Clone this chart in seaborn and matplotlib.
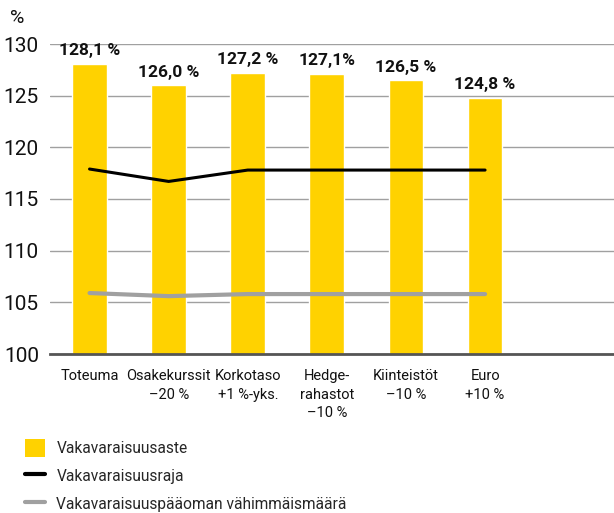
import matplotlib
matplotlib.use("Agg")
import matplotlib.pyplot as plt
import seaborn as sns
from matplotlib.patches import Patch
from matplotlib.lines import Line2D

# data
categories = ["Toteuma", "Osakekurssit\n\u201320 %", "Korkotaso\n+1 %-yks.",
              "Hedge-\nrahastot\n\u201310 %", "Kiinteist\u00f6t\n\u201310 %", "Euro\n+10 %"]
solvency_ratio = [128.1, 126.0, 127.2, 127.1, 126.5, 124.8]
ratio_labels = ["128,1 %", "126,0 %", "127,2 %", "127,1%", "126,5 %", "124,8 %"]
solvency_limit = [117.9, 116.7, 117.8, 117.8, 117.8, 117.8]
min_capital = [105.9, 105.6, 105.8, 105.8, 105.8, 105.8]
yticks = [100, 105, 110, 115, 120, 125, 130]

sns.set_style("white")
plt.rcParams['font.family'] = ['Roboto', 'DejaVu Sans']

yellow = "#FFD200"
fig = plt.figure(figsize=(6.14, 5.13), dpi=100)
ax = fig.add_axes([50 / 614, (513 - 354) / 513, (614 - 50) / 614, (354 - 44) / 513])

sns.barplot(x=categories, y=solvency_ratio, color=yellow, width=0.44,
            saturation=1, ax=ax, zorder=3)
ax.bar_label(ax.containers[0], labels=ratio_labels, padding=4,
             fontsize=12.5, fontweight="bold", color="#111111")

xs = list(range(len(categories)))
ax.plot(xs, solvency_limit, color="black", lw=2.2, zorder=4)
ax.plot(xs, min_capital, color="#a0a0a0", lw=3, zorder=4)

ax.set_ylim(100, 130)
ax.set_xlim(-0.5, 6.63)
ax.set_yticks(yticks)
ax.set_yticklabels([str(t) for t in yticks], fontsize=15)
ax.tick_params(axis="y", length=0, pad=8, colors="#111111")
ax.tick_params(axis="x", length=0, pad=11, labelsize=10.5, colors="#111111")
for lab in ax.get_xticklabels():
    lab.set_verticalalignment("top")
    lab.set_linespacing(1.4)
ax.grid(axis="y", color="#a0a0a0", lw=1, zorder=0)
ax.set_axisbelow(True)
for s in ["top", "right", "left"]:
    ax.spines[s].set_visible(False)
ax.spines["bottom"].set_color("#555555")
ax.spines["bottom"].set_linewidth(2)
ax.spines["bottom"].set_zorder(5)

fig.text(10 / 614, 1 - 18 / 513, "%", fontsize=14, va="center", ha="left", color="#111111")

handles = [Patch(facecolor=yellow, edgecolor="none"),
           Line2D([0], [0], color="black", lw=3),
           Line2D([0], [0], color="#a0a0a0", lw=3)]
labels = ["Vakavaraisuusaste", "Vakavaraisuusraja", "Vakavaraisuusp\u00e4\u00e4oman v\u00e4himm\u00e4ism\u00e4\u00e4r\u00e4"]
fig.legend(handles, labels, loc="upper left", bbox_to_anchor=(16 / 614, 1 - 430 / 513),
           frameon=False, fontsize=11.2, handlelength=1.25, handleheight=1.4,
           labelspacing=0.64, handletextpad=0.75, borderaxespad=0.2)

fig.savefig("out.png", dpi=100)
